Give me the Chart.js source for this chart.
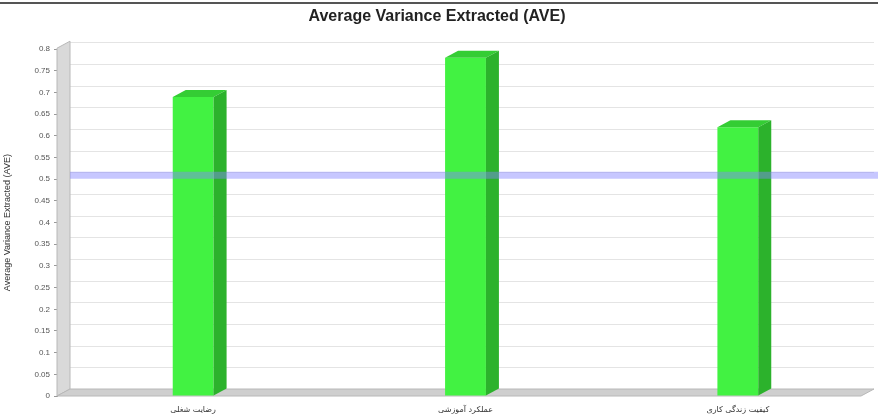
<!DOCTYPE html>
<html>
<head>
<meta charset="utf-8">
<script src="https://cdn.jsdelivr.net/npm/chart.js@4"></script>
<style>
  html, body { margin: 0; padding: 0; background: #fff; }
  #wrap { width: 878px; height: 415px; position: relative; }
</style>
</head>
<body>
<div id="wrap"><canvas id="aveCanvas"></canvas></div>
<script>
// data
const categories = ["رضایت شغلی", "عملکرد آموزشی", "کیفیت زندگی کاری"];
const aveValues = [0.69, 0.78, 0.62];
const threshold = [0.5];
const yRange = [0, 0.8, 0.05]; // min, max, step

// 3d look of the old chart
const DX = 13, DY = 7;

const threeD = {
  id: "threeD",
  beforeDraw(chart) {
    const c = chart.ctx;
    c.save();
    c.fillStyle = "#fff";
    c.fillRect(0, 0, chart.width, chart.height);
    c.fillStyle = "#555";
    c.fillRect(0, 2, chart.width, 2);
    c.restore();
  },
  beforeDatasetsDraw(chart) {
    const c = chart.ctx, a = chart.chartArea, y = chart.scales.y;
    c.save();
    // back wall grid
    c.strokeStyle = "#e4e4e4";
    c.lineWidth = 1;
    for (let v = yRange[0] + yRange[2]; v <= yRange[1] + 1e-9; v += yRange[2]) {
      const py = Math.round(y.getPixelForValue(v) - DY) + 0.5;
      c.beginPath();
      c.moveTo(a.left + DX, py);
      c.lineTo(a.right, py);
      c.stroke();
    }
    // left wall
    c.fillStyle = "#d9d9d9";
    c.strokeStyle = "#b8b8b8";
    c.beginPath();
    c.moveTo(a.left, a.bottom);
    c.lineTo(a.left, a.top + DY - 8);
    c.lineTo(a.left + DX, a.top - 8);
    c.lineTo(a.left + DX, a.bottom - DY);
    c.closePath();
    c.fill();
    c.stroke();
    // floor
    c.fillStyle = "#cfcfcf";
    c.beginPath();
    c.moveTo(a.left, a.bottom);
    c.lineTo(a.left + DX, a.bottom - DY);
    c.lineTo(a.right, a.bottom - DY);
    c.lineTo(a.right - DX, a.bottom);
    c.closePath();
    c.fill();
    c.stroke();
    c.restore();
  },
  afterDatasetsDraw(chart) {
    const c = chart.ctx, a = chart.chartArea, y = chart.scales.y;
    const meta = chart.getDatasetMeta(0);
    c.save();
    meta.data.forEach(bar => {
      const l = bar.x - bar.width / 2, r = bar.x + bar.width / 2;
      const t = bar.y, b = bar.base;
      // top face
      c.fillStyle = "rgb(52,205,52)";
      c.beginPath();
      c.moveTo(l, t);
      c.lineTo(l + DX, t - DY);
      c.lineTo(r + DX, t - DY);
      c.lineTo(r, t);
      c.closePath();
      c.fill();
      // side face
      c.fillStyle = "rgb(44,178,44)";
      c.beginPath();
      c.moveTo(r, t);
      c.lineTo(r + DX, t - DY);
      c.lineTo(r + DX, b - DY);
      c.lineTo(r, b);
      c.closePath();
      c.fill();
    });
    // threshold band
    threshold.forEach(v => {
      const py = y.getPixelForValue(v) - 4;
      c.fillStyle = "rgba(130,130,255,0.45)";
      c.fillRect(a.left + DX, py - 3.5, a.right - a.left, 7);
    });
    c.restore();
  }
};

const ctx = document.getElementById("aveCanvas").getContext("2d");
new Chart(ctx, {
  type: "bar",
  data: {
    labels: categories,
    datasets: [{
      label: "AVE",
      data: aveValues,
      backgroundColor: "rgb(66,242,66)",
      borderWidth: 0,
      barPercentage: 0.15,
      categoryPercentage: 1
    }]
  },
  options: {
    animation: false,
    responsive: true,
    maintainAspectRatio: false,
    layout: { padding: { left: 0, right: 4, top: 0, bottom: 0 } },
    plugins: {
      legend: { display: false },
      tooltip: { enabled: false },
      title: {
        display: true,
        text: "Average Variance Extracted (AVE)",
        color: "#222",
        font: { family: "Liberation Sans, Arial, sans-serif", size: 16, weight: "bold", lineHeight: 1.2 },
        padding: { top: 7, bottom: 23 }
      }
    },
    scales: {
      x: {
        grid: { display: false },
        border: { display: false },
        ticks: {
          color: "#333",
          padding: 1,
          font: { family: "DejaVu Sans, sans-serif", size: 8 }
        },
        afterFit(scale) { scale.height = 19; }
      },
      y: {
        min: yRange[0],
        max: yRange[1],
        grid: { drawOnChartArea: false, tickLength: 3, color: "#999" },
        border: { color: "#999" },
        ticks: {
          stepSize: yRange[2],
          color: "#555",
          padding: 4,
          font: { family: "Liberation Sans, Arial, sans-serif", size: 8 },
          callback: v => String(Number(v.toFixed(2)))
        },
        title: {
          display: true,
          text: "Average Variance Extracted (AVE)",
          color: "#333",
          padding: 2,
          font: { family: "Liberation Sans, Arial, sans-serif", size: 9 }
        },
        afterFit(scale) { scale.width = 57; }
      }
    }
  },
  plugins: [threeD]
});
</script>
</body>
</html>
